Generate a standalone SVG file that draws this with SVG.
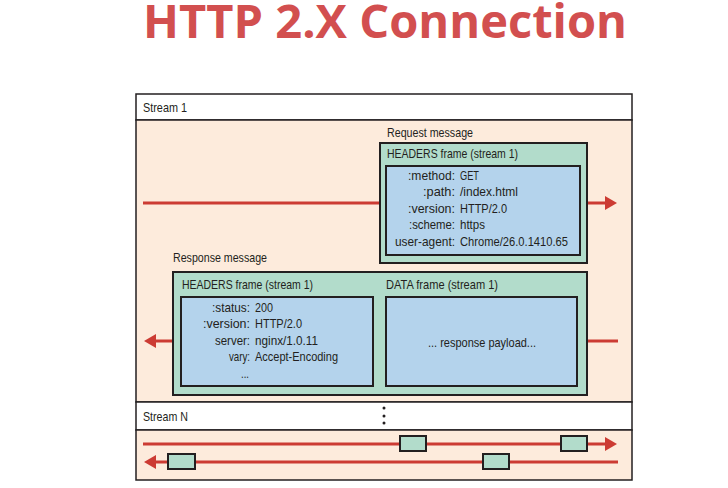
<svg xmlns="http://www.w3.org/2000/svg" width="728" height="488" viewBox="0 0 728 488">
<defs>
<style>
.t{font-family:"Liberation Sans",Arial,sans-serif;font-size:13px;fill:#231f20}
.row{fill:#ffffff;stroke:#231f20;stroke-width:1.5}
.peach{fill:#fdebdc;stroke:#231f20;stroke-width:1.5}
.green{fill:#b2dccb;stroke:#231f20;stroke-width:2}
.blue{fill:#b4d3ec;stroke:#231f20;stroke-width:2}
.ln{stroke:#cc3b33;stroke-width:3;fill:none}
.ah{fill:#cc3b33}
</style>
</defs>
<rect width="728" height="488" fill="#ffffff"/>
<text x="143" y="38" textLength="484" lengthAdjust="spacingAndGlyphs" font-family="'Open Sans','Liberation Sans',sans-serif" font-weight="bold" font-size="46" fill="#d24f4f">HTTP 2.X Connection</text>

<g id="stream1">
<rect class="row" x="136" y="94" width="496" height="26"/>
<text class="t" x="143" y="112" textLength="44" lengthAdjust="spacingAndGlyphs">Stream 1</text>
<rect class="peach" x="136" y="120" width="496" height="282"/>
</g>

<g id="streamN">
<rect class="row" x="136" y="402" width="496" height="28"/>
<text class="t" x="143" y="421" textLength="45" lengthAdjust="spacingAndGlyphs">Stream N</text>
<circle cx="384" cy="408" r="1.5" fill="#231f20"/>
<circle cx="384" cy="416" r="1.5" fill="#231f20"/>
<circle cx="384" cy="423" r="1.5" fill="#231f20"/>
<rect class="peach" x="136" y="430" width="496" height="50"/>
</g>

<g id="connectors">
<line class="ln" x1="143" y1="203" x2="380" y2="203"/>
<line class="ln" x1="587" y1="203" x2="606" y2="203"/>
<polygon class="ah" points="605,196 617,203 605,210"/>
<line class="ln" x1="155" y1="341" x2="173" y2="341"/>
<polygon class="ah" points="156,334 144,341 156,348"/>
<line class="ln" x1="587" y1="341" x2="618" y2="341"/>
<line class="ln" x1="143" y1="444" x2="606" y2="444"/>
<polygon class="ah" points="605,437 617,444 605,451"/>
<line class="ln" x1="155" y1="462" x2="618" y2="462"/>
<polygon class="ah" points="156,455 144,462 156,469"/>
</g>

<g id="request">
<text class="t" x="387" y="137" textLength="86" lengthAdjust="spacingAndGlyphs">Request message</text>
<rect class="green" x="380" y="143" width="207" height="120"/>
<text class="t" x="387" y="158" textLength="131" lengthAdjust="spacingAndGlyphs">HEADERS frame (stream 1)</text>
<rect class="blue" x="386" y="166" width="194" height="89"/>
<text class="t" x="408" y="180" textLength="47" lengthAdjust="spacingAndGlyphs">:method:</text><text class="t" x="460" y="180" textLength="19" lengthAdjust="spacingAndGlyphs">GET</text>
<text class="t" x="423" y="196" textLength="32" lengthAdjust="spacingAndGlyphs">:path:</text><text class="t" x="460" y="196" textLength="58" lengthAdjust="spacingAndGlyphs">/index.html</text>
<text class="t" x="408" y="213" textLength="47" lengthAdjust="spacingAndGlyphs">:version:</text><text class="t" x="460" y="213" textLength="47" lengthAdjust="spacingAndGlyphs">HTTP/2.0</text>
<text class="t" x="409" y="229" textLength="46" lengthAdjust="spacingAndGlyphs">:scheme:</text><text class="t" x="460" y="229" textLength="25" lengthAdjust="spacingAndGlyphs">https</text>
<text class="t" x="395" y="246" textLength="60" lengthAdjust="spacingAndGlyphs">user-agent:</text><text class="t" x="460" y="246" textLength="108" lengthAdjust="spacingAndGlyphs">Chrome/26.0.1410.65</text>
</g>

<g id="response">
<text class="t" x="173" y="262" textLength="94" lengthAdjust="spacingAndGlyphs">Response message</text>
<rect class="green" x="173" y="272" width="414" height="123"/>
<text class="t" x="182" y="289" textLength="131" lengthAdjust="spacingAndGlyphs">HEADERS frame (stream 1)</text>
<rect class="blue" x="181" y="297" width="192" height="89"/>
<text class="t" x="212" y="312" textLength="38" lengthAdjust="spacingAndGlyphs">:status:</text><text class="t" x="255" y="312" textLength="18" lengthAdjust="spacingAndGlyphs">200</text>
<text class="t" x="203" y="328" textLength="47" lengthAdjust="spacingAndGlyphs">:version:</text><text class="t" x="255" y="328" textLength="47" lengthAdjust="spacingAndGlyphs">HTTP/2.0</text>
<text class="t" x="215" y="345" textLength="35" lengthAdjust="spacingAndGlyphs">server:</text><text class="t" x="255" y="345" textLength="63" lengthAdjust="spacingAndGlyphs">nginx/1.0.11</text>
<text class="t" x="229" y="361" textLength="21" lengthAdjust="spacingAndGlyphs">vary:</text><text class="t" x="255" y="361" textLength="83" lengthAdjust="spacingAndGlyphs">Accept-Encoding</text>
<text class="t" x="241" y="378" textLength="8" lengthAdjust="spacingAndGlyphs">...</text>
<text class="t" x="386" y="289" textLength="112" lengthAdjust="spacingAndGlyphs">DATA frame (stream 1)</text>
<rect class="blue" x="386" y="297" width="191" height="89"/>
<text class="t" x="428" y="347" textLength="108" lengthAdjust="spacingAndGlyphs">... response payload...</text>
</g>

<g id="frames">
<rect class="green" x="400" y="436" width="26" height="15" stroke-width="1.5"/>
<rect class="green" x="561" y="436" width="26" height="15" stroke-width="1.5"/>
<rect class="green" x="168" y="454" width="27" height="15" stroke-width="1.5"/>
<rect class="green" x="483" y="454" width="26" height="15" stroke-width="1.5"/>
</g>
</svg>
